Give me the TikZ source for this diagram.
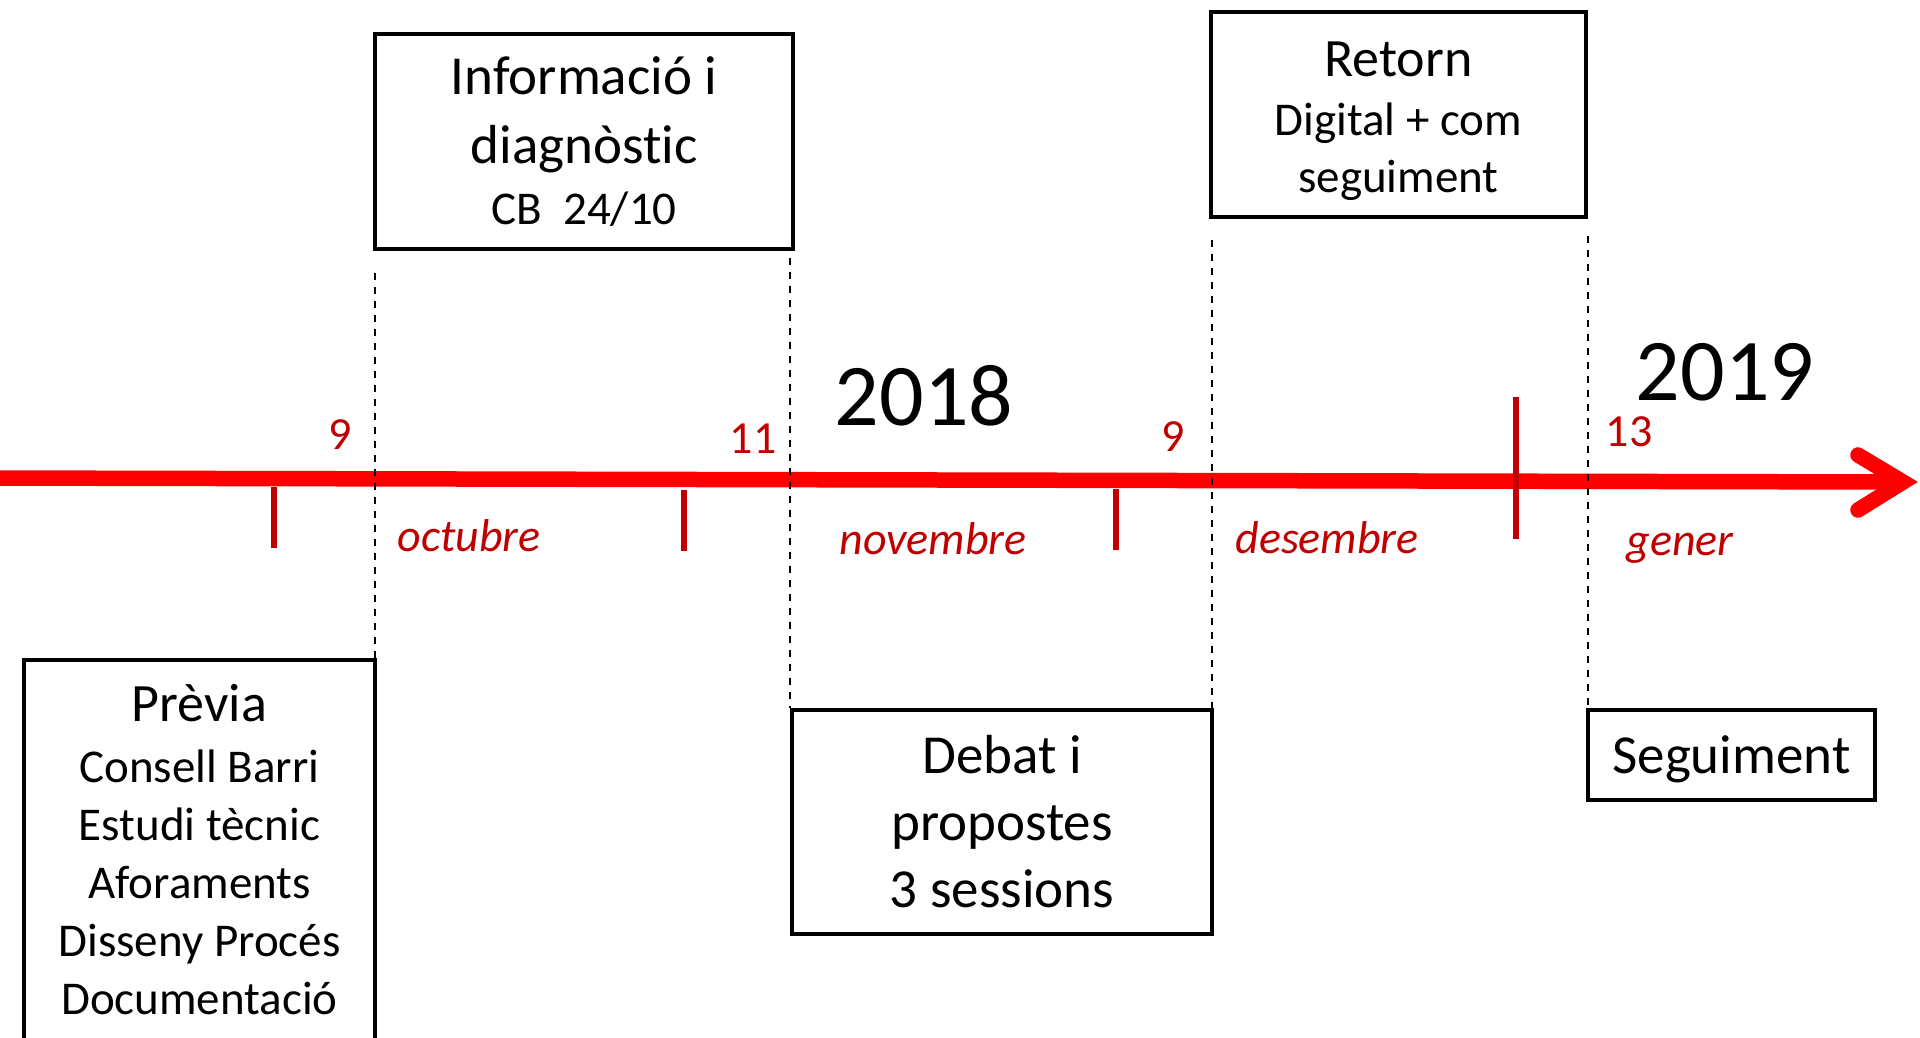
\documentclass[tikz,border=0pt]{standalone}
\usepackage{fontspec}
\setmainfont[Ligatures={NoCommon}]{Carlito}
\newcommand\fsz[2]{\fontsize{#1}{#2}\selectfont}
\definecolor{tickred}{HTML}{C00000}
\definecolor{axisred}{HTML}{FF0000}
\begin{document}
\begin{tikzpicture}[x=1pt,y=-1pt,
  box/.style={draw=black, line width=4.5pt, inner sep=0pt, align=center, font=\fsz{55}{65}},
  guide/.style={draw=black, line width=2pt, dash pattern=on 7pt off 7pt},
  tickmark/.style={draw=tickred, line width=5.5pt},
  datelbl/.style={text=tickred, font=\fsz{46}{50}, inner sep=0pt},
  monthlbl/.style={text=tickred, font=\fsz{46}{50}\itshape, inner sep=0pt},
  yearlbl/.style={text=black, font=\fsz{88}{90}, inner sep=0pt}]
\useasboundingbox (0,0) rectangle (1920,1037);
\clip (0,0) rectangle (1920,1037);

% axis
\coordinate (axL) at (-20,478);
\coordinate (axR) at (1903,482);
\coordinate (ahU) at (1858,455);
\coordinate (ahD) at (1858,510);
\draw[axisred, line width=15.5pt] (axL) -- (axR);
\draw[axisred, line width=15.5pt, line cap=round, line join=miter] (ahU) -- (axR) -- (ahD);

% ticks
\coordinate (t1a) at (274,487); \coordinate (t1b) at (274,548);
\coordinate (t2a) at (684,490); \coordinate (t2b) at (684,551);
\coordinate (t3a) at (1116,489); \coordinate (t3b) at (1116,550);
\coordinate (t4a) at (1516,397); \coordinate (t4b) at (1516,539);
\draw[tickmark] (t1a) -- (t1b);
\draw[tickmark] (t2a) -- (t2b);
\draw[tickmark] (t3a) -- (t3b);
\draw[tickmark] (t4a) -- (t4b);

% boxes
\node[box, minimum width=418, minimum height=215] (info) at (584,141.5)
  {Informació i\\[4pt]diagnòstic\\[-4pt]{\fsz{47}{58}CB\ \ 24/10}};
\node[box, minimum width=375, minimum height=205, font=\fsz{47}{57}] (retorn) at (1398.5,114.5)
  {{\fsz{54}{57}\rule{0pt}{49pt}Retorn}\\[2pt]Digital + com\\seguiment};
\node[box, minimum width=351, minimum height=380, font=\fsz{47}{58}] (previa) at (199.5,850)
  {{\fsz{54}{58}Prèvia}\\[3pt]Consell Barri\\Estudi tècnic\\Aforaments\\Disseny Procés\\Documentació};
\node[box, minimum width=420, minimum height=224, font=\fsz{55}{67}] (debat) at (1002,822)
  {Debat i\\propostes\\3 sessions};
\node[box, minimum width=287, minimum height=90] (segui) at (1731.5,755)
  {\rule{0pt}{46pt}Seguiment};

% dashed guides
\coordinate (g1) at (375,273);
\coordinate (g2) at (790,258);
\coordinate (g3) at (1212,240);
\coordinate (g4) at (1588,236);
\draw[guide] (g1) -- (g1 |- previa.north);
\draw[guide] (g2) -- (g2 |- debat.north);
\draw[guide] (g3) -- (g3 |- debat.north);
\draw[guide] (g4) -- (g4 |- segui.north);

% labels
\node[datelbl] (d1) at (340,435) {9};
\node[datelbl] (d2) at (753,439) {11};
\node[datelbl] (d3) at (1173,437) {9};
\node[datelbl] (d4) at (1629,432) {13};
\node[monthlbl] (m1) at (469,536) {octubre};
\node[monthlbl] (m2) at (933,539) {novembre};
\node[monthlbl] (m3) at (1327,538) {desembre};
\node[monthlbl] (m4) at (1680,548) {gener};
\node[yearlbl] (y1) at (924,396) {2018};
\node[yearlbl] (y2) at (1725,372) {2019};
\end{tikzpicture}
\end{document}
